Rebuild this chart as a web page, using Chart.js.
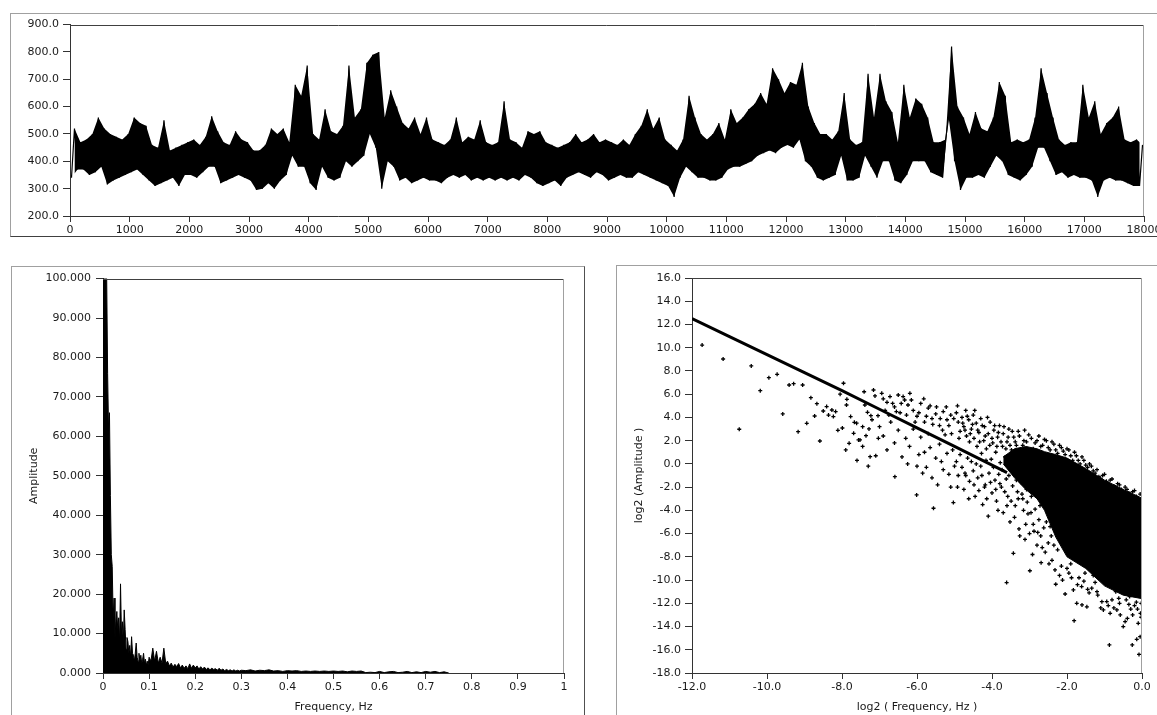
<!DOCTYPE html>
<html lang="en">
<head>
<meta charset="UTF-8">
<title>Signal, amplitude spectrum and log-log spectrum</title>
<style>
    html, body {
        margin: 0;
        padding: 0;
        background: #fff;
        width: 1157px;
        height: 715px;
        overflow: hidden;
    }

    .panel {
        position: absolute;
        border-left: 1px solid #a0a0a0;
        border-top: 1px solid #a0a0a0;
    }

    #p1 { left: 10px; top: 13px; width: 1160px; height: 222px; border-bottom: 1px solid #404040; }
    #p2 { left: 11px; top: 266px; width: 572px; height: 460px; border-right: 1px solid #505050; }
    #p3 { left: 616px; top: 265px; width: 560px; height: 460px; }

    canvas { display: block; }
</style>
</head>
<body>
    <div class="panel" id="p1"><canvas id="signal" width="1160" height="222"></canvas></div>
    <div class="panel" id="p2"><canvas id="spectrum" width="572" height="448"></canvas></div>
    <div class="panel" id="p3"><canvas id="loglog" width="553" height="449"></canvas></div>

    <script src="https://cdnjs.cloudflare.com/ajax/libs/Chart.js/4.4.1/chart.umd.min.js"></script>
    <script>
        // ---- top: raw signal, low / high value of each block of 100 samples
        const binSize = 100;
        const sigLo = [
            340,370,370,350,360,380,315,330,340,350,
            360,370,350,330,310,320,330,340,310,350,
            350,340,360,380,380,320,330,340,350,340,
            330,295,300,320,300,330,350,420,380,380,
            320,295,380,340,330,340,400,380,400,420,
            500,450,300,400,380,330,340,320,330,340,
            330,330,320,340,350,340,350,330,340,330,
            340,330,340,330,340,330,350,340,320,310,
            320,330,310,340,350,360,350,340,360,350,
            330,340,350,340,340,360,350,340,330,320,
            310,270,340,380,360,340,340,330,330,340,
            370,380,380,390,400,420,430,440,430,450,
            460,450,480,400,380,340,330,340,350,420,
            330,330,340,420,380,340,400,400,330,320,
            350,400,400,400,360,350,340,560,400,295,
            340,340,350,340,380,420,400,350,340,330,
            350,380,450,450,400,350,360,340,350,340,
            340,330,270,330,340,330,330,320,310,310
        ];
        const sigHi = [
            520,470,480,500,560,520,500,490,480,500,
            560,540,530,460,450,550,440,450,460,470,
            480,460,490,565,510,470,460,510,480,470,
            440,440,460,520,500,520,470,680,640,750,
            500,480,590,510,500,530,750,560,590,760,
            790,800,560,660,600,540,520,560,500,560,
            480,470,460,480,560,470,490,480,550,470,
            460,470,620,480,470,450,510,500,510,470,
            460,450,460,470,500,470,480,500,470,480,
            470,460,480,460,500,530,590,520,560,480,
            460,440,480,640,560,500,480,500,540,480,
            590,540,560,590,610,650,610,740,700,650,
            690,680,760,600,540,500,500,480,510,650,
            480,460,470,720,560,720,620,580,470,680,
            560,630,610,560,470,470,480,820,600,560,
            500,580,520,510,560,690,640,470,480,470,
            480,560,740,650,560,480,460,470,470,680,
            560,620,500,540,560,600,480,470,480,460
        ];

        // ---- bottom left: amplitude spectrum, three stretches with their own spacing
        const specSeg1 = [100,100,100,100,100,76,62,66,45,30,27,14,19,9,13,15.6,11,14,8,22.6,
            10,13,8,16,11,6,9,8,5,7,4,9.2,5,4.5,3,5,7.6,4,3,5,3,4.5,2.5,3.5,5,2.5,3.5,2,3,2,4];
        const specSeg2 = [3,6.3,3,5.5,2.5,4,2.5,6.3,2.5,3,1.8,2.5,1.5,2.2,1.6,2.4,1.3,2,1.2,1.8,
            1.1,2.3,1.2,2.0,1.3,1.8,1.0,1.6,1.0,1.5,0.9,1.3,0.8,1.2,0.9,1.1,0.7,1.2,0.7,1.0,
            0.6,0.9,0.6,0.8,0.5,0.8,0.5,0.7,0.5,0.7];
        const specSeg3 = [0.6,0.8,0.5,0.7,0.6,0.8,0.5,0.6,0.4,0.6,0.5,0.6,0.4,0.5,0.4,0.5,0.4,0.5,0.4,0.5,
            0.4,0.5,0.3,0.5,0.4,0.5,0.1,0.2,0.1,0.4,0.1,0.3,0.4,0.1,0.2,0.4,0.1,0.3,0.1,0.4,
            0.2,0.4,0.1,0.3,0];
        const specStart = [0, 0.104, 0.31];
        const specStep = [0.002, 0.004, 0.01];

        // ---- bottom right: log2 amplitude vs log2 frequency
        const ridgeX = [-12, -11, -10, -9, -8, -7, -6, -5, -4, -3.6];
        const ridgeY = [12.5, 10.95, 9.4, 7.85, 6.3, 4.7, 3.1, 1.5, -0.1, -0.75];
        // solid part of the cloud: upper and lower edge
        const coreX = [-3.7, -3.4, -3.1, -2.8, -2.6, -2.3, -2.0, -1.5, -1.0, -0.5, 0];
        const coreTop = [0.6, 1.3, 1.5, 1.3, 1.05, 0.8, 0.5, -0.4, -1.4, -2.2, -2.95];
        const coreBot = [0.0, -1.2, -2.2, -3.0, -4.0, -6.3, -8.0, -9.0, -10.5, -11.3, -11.6];
        const cloud = [
            [-11.73,10.23],[-11.17,9.03],[-10.74,2.98],[-10.42,8.43],[-10.18,6.3],[-9.95,7.42],[-9.73,7.71],
            [-9.58,4.3],[-9.41,6.79],[-9.29,6.9],[-9.17,2.77],[-9.05,6.79],[-8.94,3.49],[-8.83,5.7],[-8.73,4.12],
            [-8.67,5.18],[-8.59,1.97],[-8.5,4.55],[-8.41,4.93],[-8.36,4.2],[-8.27,4.64],[-8.23,4.07],[-8.17,4.5],
            [-8.11,2.89],[-7.99,3.09],[-7.96,6.94],[-8.05,6.0],[-7.88,5.07],[-7.87,5.56],[-7.81,1.77],[-7.77,4.07],
            [-7.69,2.63],[-7.67,3.58],[-7.61,3.5],[-7.56,2.06],[-7.52,2.06],[-7.45,3.2],[-7.41,6.21],[-7.39,5.07],
            [-7.36,2.43],[-7.32,4.44],[-7.28,3.01],[-7.23,4.15],[-7.16,6.36],[-7.12,5.85],[-7.04,4.15],[-7.03,2.2],
            [-6.94,6.07],[-6.72,5.79],[-6.5,5.93],[-6.37,5.79],[-6.19,6.07],[-6.33,5.5],[-6.24,5.07],[-6.8,5.3],
            [-6.6,4.9],[-6.1,4.6],[-5.9,5.2],[-5.7,4.8],[-5.5,4.3],[-5.6,3.9],[-5.3,4.5],[-5.2,3.8],[-5.1,4.2],
            [-6.45,4.4],[-6.0,4.1],[-5.8,3.6],[-5.4,3.3],[-6.9,5.6],[-6.65,5.2],
            [-7.2,3.8],[-7.0,3.2],[-6.9,2.4],[-6.7,3.6],[-6.6,1.8],[-6.5,2.9],[-6.4,0.6],[-6.3,2.2],[-6.2,1.5],
            [-6.1,3.0],[-6.0,-0.2],[-5.9,2.3],[-5.8,1.0],[-5.7,2.6],[-5.6,-1.2],[-5.5,0.5],[-5.4,1.7],[-5.3,-0.5],
            [-5.2,0.9],[-5.1,-2.0],[-6.59,-1.1],[-6.01,-2.67],[-5.56,-3.82],[-5.03,-3.33],[-7.25,0.62],[-7.1,0.7],
            [-7.9,1.2],[-7.6,0.3],[-7.3,-0.2],[-7.45,1.5],[-6.8,1.2],[-6.25,0.0],[-5.85,-0.8],[-5.45,-1.8],
            [-5.25,2.5],[-5.05,1.2],
            [-4.95,4.4],[-4.9,3.6],[-4.85,2.8],[-4.8,4.0],[-4.75,3.2],[-4.7,4.6],[-4.68,2.4],[-4.62,3.8],[-4.6,1.9],
            [-4.55,3.0],[-4.5,4.2],[-4.48,2.2],[-4.42,3.5],[-4.4,1.5],[-4.35,2.7],[-4.3,3.9],[-4.28,0.9],[-4.22,2.0],
            [-4.2,3.2],[-4.15,1.3],[-4.1,2.6],[-4.05,3.6],[-4.02,0.4],[-3.98,1.8],[-3.95,2.9],[-3.9,1.0],[-3.85,2.3],
            [-3.8,3.3],[-3.78,0.1],[-3.72,1.5],[-3.7,2.6],[-3.65,0.6],[-3.6,1.9],[-3.55,3.0],[-3.5,-0.3],[-3.48,1.2],
            [-3.42,2.3],[-3.4,0.3],[-3.35,1.6],[-3.3,2.8],[-3.25,-0.6],[-3.2,0.9],[-3.15,2.0],[-3.1,-0.2],[-3.05,1.3],
            [-3.02,2.5],
            [-4.95,0.2],[-4.9,-1.0],[-4.8,-0.3],[-4.75,-2.2],[-4.65,0.5],[-4.6,-1.5],[-4.5,-0.6],[-4.45,-2.8],
            [-4.38,-1.2],[-4.3,-0.2],[-4.25,-3.5],[-4.18,-1.8],[-4.1,-4.5],[-4.08,-0.8],[-4.0,-2.5],[-3.92,-1.4],
            [-3.88,-3.2],[-3.82,-0.9],[-3.75,-2.0],[-3.7,-4.2],[-3.62,-1.3],[-3.58,-2.8],[-3.52,-5.0],[-3.45,-1.9],
            [-3.43,-7.7],[-3.38,-3.6],[-3.32,-2.4],[-3.28,-5.6],[-3.22,-1.6],[-3.18,-3.0],[-3.12,-6.5],[-3.08,-2.2],
            [-3.04,-4.3],[-3.61,-10.22],[-4.7,-1.0],[-4.2,-2.0],
            [-2.95,2.2],[-2.85,1.8],[-2.75,2.4],[-2.65,1.6],[-2.55,2.0],[-2.45,1.2],[-2.35,1.7],[-2.25,0.9],
            [-2.15,1.4],[-2.05,0.8],[-1.95,1.2],[-1.85,0.3],[-1.75,0.7],[-1.65,0.0],[-1.55,0.3],[-1.45,-0.3],
            [-1.35,-0.2],[-1.25,-0.8],[-1.15,-1.1],[-1.05,-1.0],[-0.95,-1.5],[-0.85,-1.4],[-0.75,-1.9],[-0.65,-1.7],
            [-0.55,-2.2],[-0.45,-2.0],[-0.35,-2.5],[-0.25,-2.4],[-0.15,-2.8],[-0.05,-2.6],
            [-2.95,-2.8],[-2.9,-5.2],[-2.99,-9.2],[-2.85,-3.9],[-2.8,-7.0],[-2.75,-4.8],[-2.7,-6.2],[-2.69,-8.5],
            [-2.62,-5.5],[-2.58,-7.6],[-2.5,-6.8],[-2.45,-5.4],[-2.4,-8.3],[-2.32,-9.13],[-2.3,-10.36],[-2.25,-7.4],
            [-2.15,-8.8],[-2.1,-6.8],[-2.05,-11.2],[-1.95,-9.4],[-1.9,-8.6],[-1.83,-10.85],[-1.81,-13.5],[-1.74,-12.0],
            [-1.68,-9.8],[-1.61,-10.56],[-1.6,-12.14],[-1.52,-9.4],[-1.47,-12.3],[-1.41,-11.1],[-1.34,-10.7],
            [-1.25,-10.2],[-1.18,-11.3],[-1.07,-11.86],[-1.03,-12.57],[-0.94,-11.85],[-0.87,-15.58],[-0.85,-12.86],
            [-0.8,-11.7],[-0.67,-12.57],[-0.62,-11.57],[-0.58,-13.0],[-0.5,-14.0],[-0.45,-13.57],[-0.42,-11.7],
            [-0.39,-13.3],[-0.33,-11.42],[-0.26,-15.58],[-0.2,-12.2],[-0.14,-15.1],[-0.1,-13.72],[-0.08,-16.4],
            [-0.05,-14.87],[-0.04,-12.86],[-0.02,-12.0],[-0.7,-11.0],[-0.3,-12.5],[-0.15,-11.9],[-1.3,-9.6],[-0.55,-10.9],
            [-6.85,4.6],[-6.75,4.2],[-6.55,4.5],[-6.42,5.2],[-6.28,4.2],[-6.15,5.5],[-6.05,3.6],[-5.95,4.4],[-5.82,5.6],
            [-5.75,4.1],[-5.65,5.0],[-5.58,3.4],[-5.48,4.9],[-5.38,3.9],[-5.32,2.9],[-5.22,4.9],[-5.15,3.3],[-5.08,2.6],
            [-5.02,3.9],[-4.92,5.0],[-4.88,2.2],[-4.78,3.5],[-4.72,2.9],[-4.66,4.1],[-4.58,2.6],[-4.52,3.4],[-4.46,4.6],
            [-4.38,2.9],[-4.33,1.9],[-4.26,3.3],[-4.18,2.4],[-4.12,4.0],[-4.06,1.6],[-4.0,2.2],[-3.93,3.3],[-3.87,1.5],
            [-3.83,2.7],[-3.76,1.9],[-3.68,3.2],[-3.63,1.3],[-3.57,2.3],[-3.52,1.6],[-3.46,2.8],[-3.38,1.9],[-3.33,1.0],
            [-3.27,2.4],[-3.18,1.6],[-3.13,2.9],[-3.08,1.9],
            [-5.95,0.8],[-5.75,-0.3],[-5.65,1.4],[-5.35,0.2],[-5.15,-0.9],[-5.0,-0.2],[-4.92,-2.0],[-4.85,0.8],
            [-4.72,-0.8],[-4.62,-3.0],[-4.55,0.2],[-4.48,-1.8],[-4.42,0.0],[-4.35,-2.3],[-4.27,-1.0],[-4.16,0.3],
            [-4.14,-3.0],[-4.04,-1.6],[-3.96,-0.3],[-3.9,-2.2],[-3.84,-4.0],[-3.79,-1.7],[-3.73,-0.5],[-3.66,-2.4],
            [-3.6,-3.6],[-3.55,-1.0],[-3.49,-3.2],[-3.44,-0.6],[-3.4,-4.6],[-3.35,-1.4],[-3.3,-3.0],[-3.26,-6.2],
            [-3.2,-2.6],[-3.16,-4.0],[-3.1,-5.2],[-3.06,-3.3],[-3.0,-6.0],[-2.96,-4.2],[-2.92,-7.8],[-2.88,-5.8],
            [-2.78,-5.9],[-2.72,-3.6],[-2.66,-7.2],[-2.55,-5.0],[-2.48,-8.6],[-2.42,-6.2],[-2.35,-7.0],[-2.2,-9.6],
            [-2.12,-10.0],[-2.0,-9.0],[-1.88,-9.8],[-1.72,-10.4],[-1.55,-10.1],[-1.45,-10.8],[-1.2,-11.0],[-1.1,-12.4],
            [-0.9,-12.2],[-0.75,-12.4],[-0.6,-12.0],[-0.35,-12.1],[-0.25,-13.0],[-0.12,-12.5],[-0.02,-13.2],
            [-2.9,1.3],[-2.8,2.0],[-2.7,1.5],[-2.6,2.1],[-2.5,1.4],[-2.4,1.9],[-2.3,1.2],[-2.2,1.6],[-2.1,1.1],
            [-2.0,1.3],[-1.9,0.7],[-1.8,1.0],[-1.7,0.3],[-1.6,0.6],[-1.5,-0.1],[-1.4,0.0],[-1.3,-0.6],[-1.2,-0.5],
            [-1.1,-1.3],[-1.0,-0.9],[-0.9,-1.7],[-0.8,-1.3],[-0.7,-2.0],[-0.6,-1.8],[-0.5,-2.4],[-0.4,-2.2],
            [-0.3,-2.7],[-0.2,-2.3],[-0.1,-3.0]
        ];

        Chart.defaults.font.family = '"DejaVu Sans", Verdana, sans-serif';
        Chart.defaults.font.size = 11;
        Chart.defaults.color = '#1a1a1a';
        Chart.defaults.animation = false;
        Chart.defaults.plugins.legend.display = false;
        Chart.defaults.plugins.tooltip.enabled = false;

        // dark top edge, light right edge of the plot area
        const plotFrame = {
            id: 'plotFrame',
            afterDraw(chart) {
                const { ctx, chartArea: a } = chart;
                const t = Math.round(a.top) + 0.5, r = Math.round(a.right) - 0.5;
                ctx.save();
                ctx.lineWidth = 1;
                ctx.strokeStyle = '#404040';
                ctx.beginPath();
                ctx.moveTo(a.left, t);
                ctx.lineTo(r, t);
                ctx.stroke();
                ctx.strokeStyle = '#a0a0a0';
                ctx.beginPath();
                ctx.moveTo(r, t);
                ctx.lineTo(r, a.bottom);
                ctx.stroke();
                ctx.restore();
            }
        };

        function axisY(min, max, step, digits, width, tickPad, title) {
            return {
                min: min, max: max,
                afterFit: s => { s.width = width; },
                ticks: { stepSize: step, padding: tickPad, callback: v => v.toFixed(digits) },
                grid: { drawOnChartArea: false, tickLength: 7, color: '#333' },
                border: { color: '#333' },
                title: title ? { display: true, text: title, padding: { top: 16, bottom: 0 } } : { display: false }
            };
        }

        function axisX(min, max, step, fmt, height, title) {
            return {
                type: 'linear', min: min, max: max,
                afterFit: s => { s.height = height; },
                ticks: { stepSize: step, padding: 2, maxRotation: 0, autoSkip: false, callback: fmt },
                grid: { drawOnChartArea: false, tickLength: 6, color: '#333' },
                border: { color: '#333' },
                title: title ? { display: true, text: title, padding: { top: 0, bottom: 1 } } : { display: false }
            };
        }

        // signal: band between the lows and highs filled, zigzag through them on top
        const loPts = sigLo.map((v, i) => ({ x: i * binSize + 25, y: v }));
        const hiPts = sigHi.map((v, i) => ({ x: i * binSize + 75, y: v }));
        const sigPts = [];
        sigLo.forEach((lo, i) => {
            sigPts.push(loPts[i]);
            sigPts.push(hiPts[i]);
        });

        new Chart(document.getElementById('signal'), {
            type: 'line',
            data: {
                datasets: [
                    { data: loPts, borderWidth: 0, pointRadius: 0, tension: 0, fill: false },
                    { data: hiPts, borderWidth: 0, pointRadius: 0, tension: 0,
                      backgroundColor: '#000', fill: '-1' },
                    { data: sigPts, borderColor: '#000', borderWidth: 1.2, pointRadius: 0, tension: 0,
                      borderJoinStyle: 'bevel' }
                ]
            },
            options: {
                responsive: false,
                layout: { padding: { left: 0, top: 10, right: 27, bottom: 0 } },
                scales: {
                    x: axisX(0, 18000, 1000, v => String(v), 20, null),
                    y: axisY(200, 900, 100, 1, 59, 4, null)
                }
            },
            plugins: [plotFrame]
        });

        // spectrum
        const specPts = [];
        [specSeg1, specSeg2, specSeg3].forEach((seg, k) => {
            seg.forEach((a, i) => specPts.push({ x: +(specStart[k] + i * specStep[k]).toFixed(4), y: a }));
        });

        new Chart(document.getElementById('spectrum'), {
            type: 'line',
            data: {
                datasets: [{
                    data: specPts,
                    borderColor: '#000',
                    backgroundColor: '#000',
                    borderWidth: 1,
                    fill: 'origin',
                    pointRadius: 0,
                    tension: 0
                }]
            },
            options: {
                responsive: false,
                layout: { padding: { left: 0, top: 11, right: 20, bottom: 0 } },
                scales: {
                    x: axisX(0, 1, 0.1, v => String(+v.toFixed(1)), 42, 'Frequency, Hz'),
                    y: axisY(0, 100, 10, 3, 91, 5, 'Amplitude')
                }
            },
            plugins: [plotFrame]
        });

        // log-log
        const toPts = (xs, ys) => xs.map((x, i) => ({ x: x, y: ys[i] }));

        new Chart(document.getElementById('loglog'), {
            type: 'scatter',
            data: {
                datasets: [
                    {
                        data: toPts(coreX, coreTop),
                        showLine: true, borderColor: '#000', borderWidth: 1,
                        pointRadius: 0, fill: false
                    },
                    {
                        data: toPts(coreX, coreBot),
                        showLine: true, borderColor: '#000', borderWidth: 1,
                        backgroundColor: '#000', pointRadius: 0, fill: '-1'
                    },
                    {
                        data: toPts(ridgeX, ridgeY),
                        showLine: true, borderColor: '#000', borderWidth: 3,
                        pointRadius: 0
                    },
                    {
                        data: cloud.map(p => ({ x: p[0], y: p[1] })),
                        pointStyle: 'cross', pointRadius: 2, borderWidth: 1.3,
                        borderColor: '#000', backgroundColor: '#000'
                    }
                ]
            },
            options: {
                responsive: false,
                layout: { padding: { left: 0, top: 12, right: 28, bottom: 0 } },
                scales: {
                    x: axisX(-12, 0, 2, v => v.toFixed(1), 42, 'log2 ( Frequency, Hz )'),
                    y: axisY(-18, 16, 2, 1, 75, 4, 'log2 (Amplitude )')
                }
            },
            plugins: [plotFrame]
        });
    </script>
</body>
</html>
